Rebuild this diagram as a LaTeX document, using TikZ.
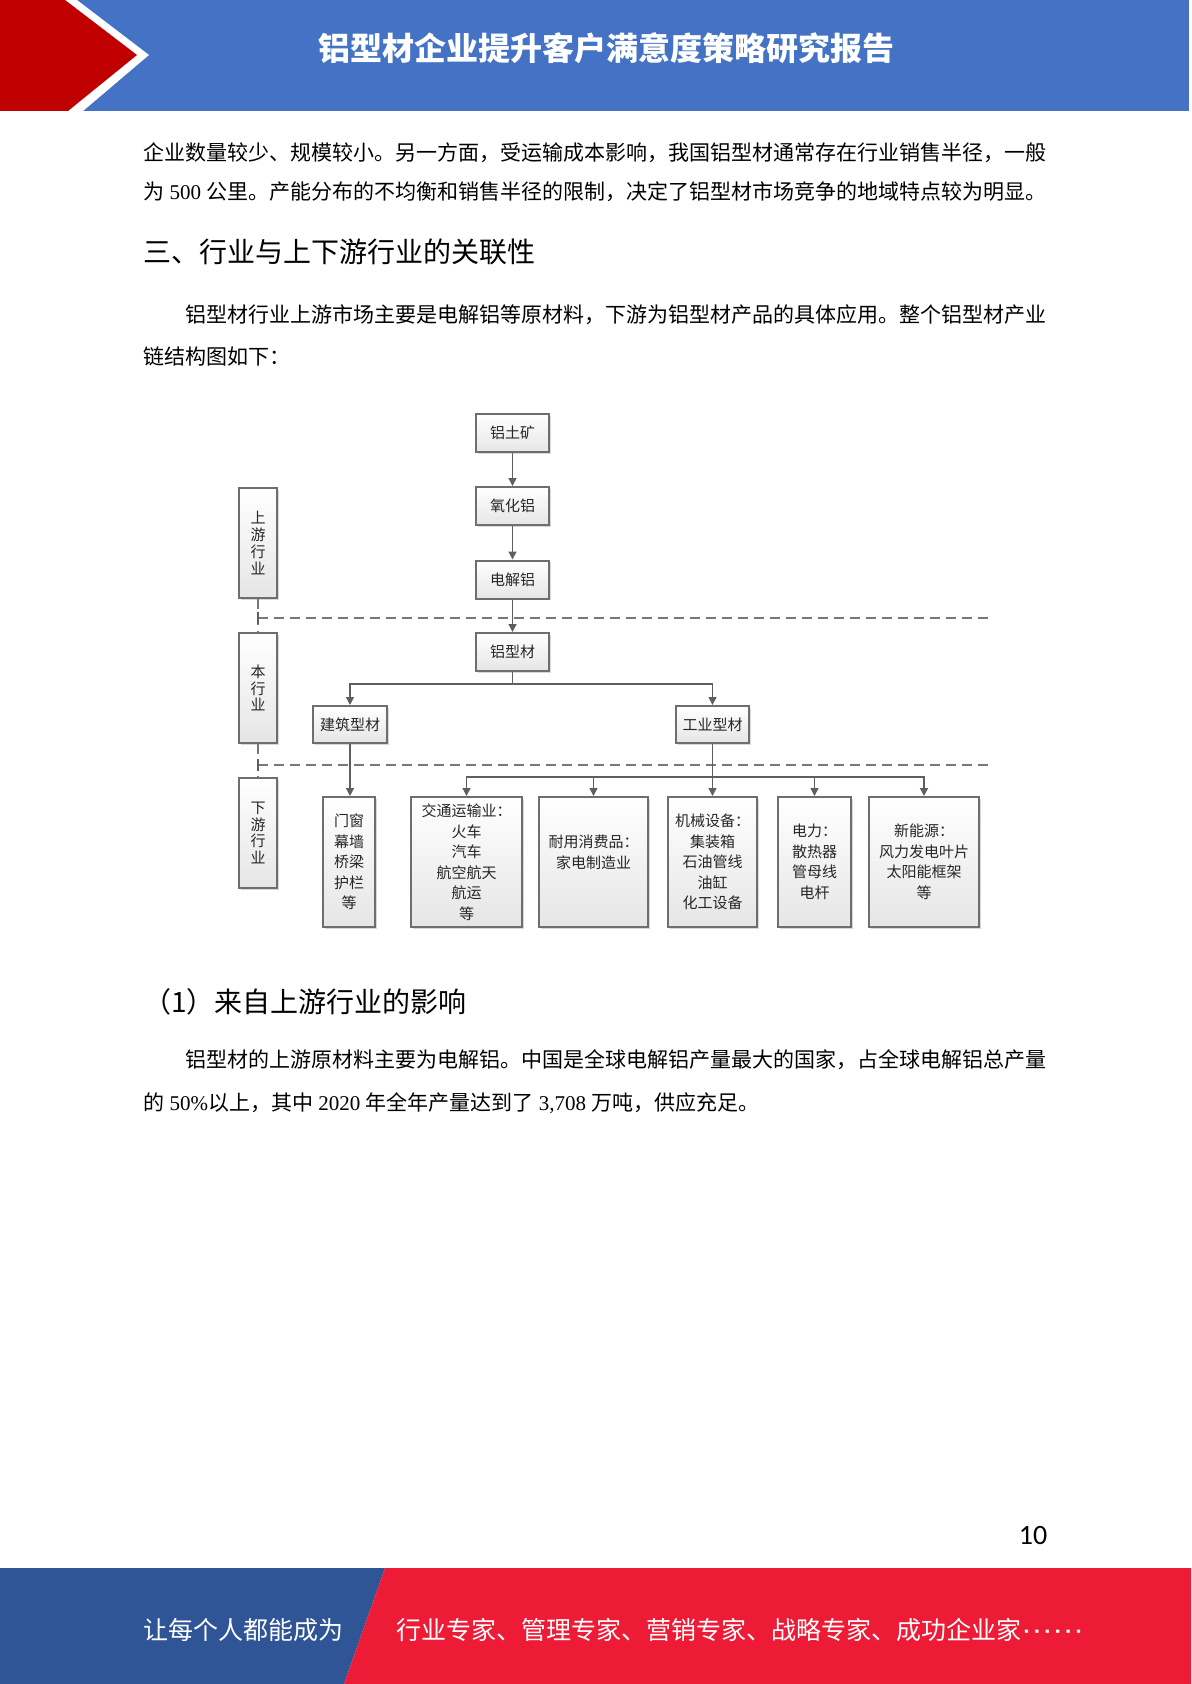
\documentclass[tikz,border=0pt]{standalone}
\usepackage{fontspec}
\setmainfont{Noto Sans CJK SC}
\newfontfamily\latinserif{Liberation Serif}
\newfontfamily\pagefont{Carlito}
\newfontfamily\dotfont{DejaVu Sans}
\usepackage{graphicx}
\usepackage{tikz}
\usetikzlibrary{arrows.meta,shadows}

\definecolor{headblue}{HTML}{4472C4}
\definecolor{headred}{HTML}{C00000}
\definecolor{footblue}{HTML}{2F5597}
\definecolor{footred}{HTML}{EE1B36}
\definecolor{linegray}{HTML}{5F5F5F}
\definecolor{boxgray}{HTML}{6E6E6E}

\tikzset{
	stagebox/.style={draw=boxgray, line width=1pt, top color=white, bottom color=black!10,
		drop shadow={shadow xshift=0.8pt, shadow yshift=-0.8pt, opacity=0.3},
		inner sep=0pt, text=black!85, align=center, font=\fontsize{7.5}{10.25}\selectfont},
	lanebox/.style={stagebox, minimum width=19pt, minimum height=55pt, font=\fontsize{7.5}{8.4}\selectfont},
	usebox/.style={stagebox, minimum height=65pt},
	flowline/.style={draw=linegray, line width=0.75pt, -{Triangle[length=4pt,width=4pt]}},
	joinline/.style={draw=linegray, line width=0.75pt},
	sepline/.style={draw=linegray!85, line width=1pt, dash pattern=on 5pt off 3pt},
	bodytext/.style={anchor=west, inner sep=0pt, font=\fontsize{10.5}{13}\selectfont},
	headtext/.style={anchor=west, inner sep=0pt, font=\fontsize{14}{16}\selectfont}
}

\begin{document}
\begin{tikzpicture}[x=0.5pt, y=-0.5pt]
		%%%%% START %%%%%
		
		\useasboundingbox (0,0) rectangle (1191,1684);
		\fill[white] (0,0) rectangle (1191,1684);
		
		% header band
		\fill[headblue] (0,0) rectangle (1189,111);
		\fill[white] (0,0) -- (77,0) -- (149,55) -- (83,111) -- (0,111) -- cycle;
		\fill[headred] (0,0) -- (65,0) -- (137,55) -- (68,111) -- (0,111) -- cycle;
		\node[text=white, font=\fontsize{16}{18}\selectfont\bfseries] (title) at (606,48) {铝型材企业提升客户满意度策略研究报告};
		
		% text above the chart
		\node[bodytext] (lineA) at (143,153) {企业数量较少、规模较小。另一方面，受运输成本影响，我国铝型材通常存在行业销售半径，一般};
		\node[bodytext] (lineB) at (143,192) {为{\latinserif\ 500 }公里。产能分布的不均衡和销售半径的限制，决定了铝型材市场竞争的地域特点较为明显。};
		\node[headtext] (headA) at (143,252) {三、行业与上下游行业的关联性};
		\node[bodytext] (lineC) at (185,315) {铝型材行业上游市场主要是电解铝等原材料，下游为铝型材产品的具体应用。整个铝型材产业};
		\node[bodytext] (lineD) at (143,357) {链结构图如下：};
		
		% lanes
		\node[lanebox] (upl) at (258,543) {上\\游\\行\\业};
		\node[lanebox] (midl) at (258,688) {本\\行\\业};
		\node[lanebox] (lowl) at (258,833) {下\\游\\行\\业};
		\draw[sepline] (upl) -- (midl);
		\draw[sepline] (midl) -- (lowl);
		
		\coordinate (cutA) at (258,618);
		\coordinate (cutB) at (988,618);
		\coordinate (cutC) at (258,765);
		\coordinate (cutD) at (988,765);
		\draw[sepline] (cutA) -- (cutB);
		\draw[sepline] (cutC) -- (cutD);
		\draw[joinline] (cutA) ++(0,-6) -- ++(0,12);
		\draw[joinline] (cutC) ++(0,-6) -- ++(0,12);
		
		% upstream chain
		\node[stagebox, minimum width=36.5pt, minimum height=19pt] (ore) at (512.5,433) {铝土矿};
		\node[stagebox, minimum width=36.5pt, minimum height=19pt] (alumina) at (512.5,506) {氧化铝};
		\node[stagebox, minimum width=36.5pt, minimum height=19pt] (electro) at (512.5,579.5) {电解铝};
		\node[stagebox, minimum width=36.5pt, minimum height=19pt] (profile) at (512.5,652) {铝型材};
		\draw[flowline] (ore) -- (alumina);
		\draw[flowline] (alumina) -- (electro);
		\draw[flowline] (electro) -- (profile);
		
		% two kinds of profile
		\node[stagebox, minimum width=37pt, minimum height=18.5pt] (build) at (350,724.5) {建筑型材};
		\node[stagebox, minimum width=36.5pt, minimum height=18.5pt] (industry) at (712.5,724.5) {工业型材};
		\draw[joinline] (profile.south) -- ++(0,12) coordinate (split);
		\draw[flowline] (split) -| (build.north);
		\draw[flowline] (split) -| (industry.north);
		
		% downstream uses
		\node[usebox, minimum width=26pt] (door) at (349,862) {门窗\\幕墙\\桥梁\\护栏\\等};
		\node[usebox, minimum width=55.5pt] (traffic) at (466.5,862) {交通运输业：\\火车\\汽车\\航空航天\\航运\\等};
		\node[usebox, minimum width=54.5pt] (durable) at (593.5,862) {耐用消费品：\\家电制造业\\\mbox{}};
		\node[usebox, minimum width=44.5pt] (machine) at (712.5,862) {机械设备：\\集装箱\\石油管线\\油缸\\化工设备};
		\node[usebox, minimum width=36.5pt] (power) at (814.5,862) {电力：\\散热器\\管母线\\电杆};
		\node[usebox, minimum width=55pt] (energy) at (924,862) {新能源：\\风力发电叶片\\太阳能框架\\等};
		
		\draw[flowline] (build.south) -- (build.south |- door.north);
		\draw[flowline] (industry) -- (machine);
		\draw[joinline] (industry.south) -- ++(0,33) coordinate (fan);
		\draw[flowline] (fan) -| (traffic.north);
		\draw[flowline] (fan) -| (durable.north);
		\draw[flowline] (fan) -| (power.north);
		\draw[flowline] (fan) -| (energy.north);
		
		% text below the chart
		\node[headtext] (headB) at (143,1002) {（1）来自上游行业的影响};
		\node[bodytext] (lineE) at (185,1060) {铝型材的上游原材料主要为电解铝。中国是全球电解铝产量最大的国家，占全球电解铝总产量};
		\node[bodytext] (lineF) at (143,1103) {的{\latinserif\ 50\%}以上，其中{\latinserif\ 2020 }年全年产量达到了{\latinserif\ 3,708 }万吨，供应充足。};
		
		% page number and footer
		\node[font=\pagefont\fontsize{14}{16}\selectfont] (pageno) at (1033,1535) {10};
		\fill[footblue] (0,1568) -- (385,1568) -- (344,1684) -- (0,1684) -- cycle;
		\fill[footred] (385,1568) -- (1191,1568) -- (1191,1684) -- (344,1684) -- cycle;
		\node[anchor=west, inner sep=0pt, text=white, font=\fontsize{12.5}{14}\selectfont] (mottoA) at (143,1630) {让每个人都能成为};
		\node[anchor=west, inner sep=0pt, text=white, font=\fontsize{12.5}{14}\selectfont] (mottoB) at (396,1630) {行业专家、管理专家、营销专家、战略专家、成功企业家\scalebox{1.25}[1]{\dotfont ⋯⋯}};
		
		%%%%% END %%%%%
	\end{tikzpicture}
\end{document}
